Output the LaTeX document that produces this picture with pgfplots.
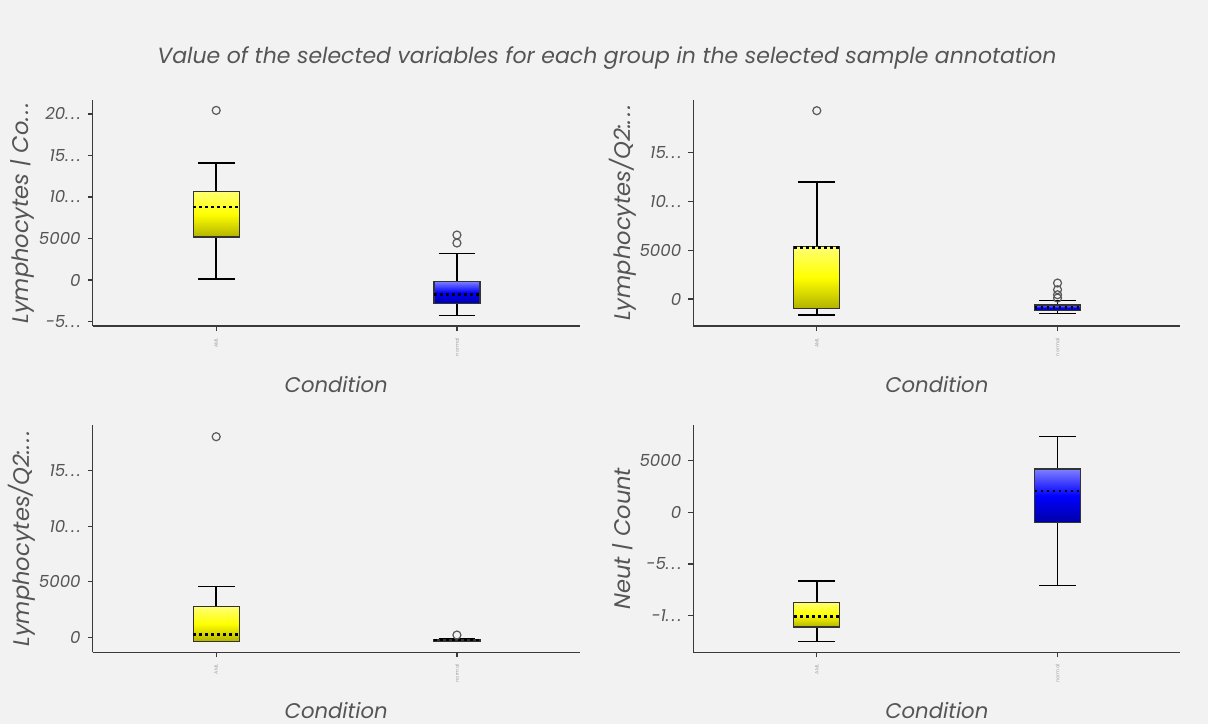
\documentclass[border=0pt]{standalone}
\usepackage{pgfplots}
\pgfplotsset{compat=1.18}
\usepgfplotslibrary{statistics}
\usepackage{fontspec}
\setmainfont{Poppins}
\newcommand{\dd}{.\kern1.2pt.\kern1.2pt.}
\definecolor{bg}{HTML}{F2F2F2}
\definecolor{txt}{HTML}{555555}
\definecolor{axc}{HTML}{3A3A3A}
\pgfplotsset{
 panel/.style={
  scale only axis, width=243.5pt,
  axis x line=bottom, axis y line=left,
  axis line style={-, draw=axc, line width=0.75pt},
  xmin=-0.513, xmax=1.51,
  xtick={0,1}, xticklabels={AML,normal},
  x tick label style={rotate=90, anchor=east, font=\fontsize{2.5}{3}\selectfont, text=gray!70},
  scaled y ticks=false,
  tick style={draw=axc, line width=0.6pt},
  tick align=outside, major tick length=2.5pt,
  y tick label style={font=\fontsize{8.3}{9}\selectfont\itshape, text=txt},
  every axis y label/.style={at={(axis description cs:-0.145,0.5)}, anchor=center, rotate=90, font=\fontsize{11.3}{13}\selectfont\itshape, text=txt},
  xlabel={Condition},
  clip=false,
 },
 bx/.style={boxplot/draw direction=y, boxplot/box extend=0.191, draw=black,
  boxplot/every box/.style={draw=black!80, line width=0.65pt, fill=none},
  boxplot/every whisker/.style={draw=black, line width=0.7pt},
  boxplot/every median/.style={draw=black, line width=1.4pt, dash pattern=on 1.4pt off 1.6pt},
  mark=o, mark size=2pt, mark options={draw=black!65, line width=0.6pt, solid}},
 shaml/.style={draw=none, top color=yellow!55!white, bottom color=yellow!70!black, middle color=yellow},
 shnrm/.style={draw=none, top color=blue!50!white, bottom color=blue!65!black, middle color=blue},
 xlab/.style={every axis x label/.style={at={(axis description cs:0.5,#1)}, anchor=center, font=\fontsize{10.6}{12}\selectfont\itshape, text=txt}},
}
\begin{document}
\begin{tikzpicture}
\useasboundingbox (0,0) rectangle (604pt,362pt);
\fill[bg] (0,0) rectangle (604pt,362pt);
\node[font=\fontsize{11}{13}\selectfont\itshape, text=txt] at (303.5pt,333pt) {Value of the selected variables for each group in the selected sample annotation};

% Panel 1
\begin{axis}[panel, xlab=-0.257, at={(46.35pt,199pt)}, anchor=south west, height=113pt,
  ymin=-5542, ymax=21687,
  ytick={-5000,0,5000,10000,15000,20000},
  yticklabels={-5\dd,0,5000,10\dd,15\dd,20\dd},
  ylabel={Lymphocytes | Co\dd}]
\addplot[shaml] coordinates {(-0.0955,5181) (0.0955,5181) (0.0955,10687) (-0.0955,10687)} -- cycle;
\addplot[shnrm] coordinates {(0.9045,-2855) (1.0955,-2855) (1.0955,-157) (0.9045,-157)} -- cycle;
\addplot[bx, boxplot prepared={draw position=0, lower whisker=120, lower quartile=5181, median=8795, upper quartile=10687, upper whisker=14096}]
  table[row sep=\\, y index=0]{y\\ 20434\\};
\addplot[bx, boxplot prepared={draw position=1, lower whisker=-4253, lower quartile=-2855, median=-1723, upper quartile=-157, upper whisker=3217}]
  table[row sep=\\, y index=0]{y\\ 5422\\ 4458\\};
\end{axis}

% Panel 2
\begin{axis}[panel, xlab=-0.257, at={(346.65pt,199pt)}, anchor=south west, height=113pt,
  ymin=-2755, ymax=20337,
  ytick={0,5000,10000,15000},
  yticklabels={0,5000,10\dd,15\dd},
  ylabel={Lymphocytes/Q2:\dd}]
\addplot[shaml] coordinates {(-0.0955,-959) (0.0955,-959) (0.0955,5370) (-0.0955,5370)} -- cycle;
\addplot[shnrm] coordinates {(0.9045,-1163) (1.0955,-1163) (1.0955,-612) (0.9045,-612)} -- cycle;
\addplot[bx, boxplot prepared={draw position=0, lower whisker=-1633, lower quartile=-959, median=5250, upper quartile=5370, upper whisker=11970}]
  table[row sep=\\, y index=0]{y\\ 19245\\};
\addplot[bx, boxplot prepared={draw position=1, lower whisker=-1500, lower quartile=-1163, median=-888, upper quartile=-612, upper whisker=-143}]
  table[row sep=\\, y index=0]{y\\ 1633\\ 949\\ 439\\ 100\\};
\end{axis}

% Panel 3
\begin{axis}[panel, xlab=-0.255, at={(46.35pt,35.85pt)}, anchor=south west, height=113.65pt,
  ymin=-1351, ymax=19126,
  ytick={0,5000,10000,15000},
  yticklabels={0,5000,10\dd,15\dd},
  ylabel={Lymphocytes/Q2:\dd}]
\addplot[shaml] coordinates {(-0.0955,-360) (0.0955,-360) (0.0955,2757) (-0.0955,2757)} -- cycle;
\addplot[shnrm] coordinates {(0.9045,-330) (1.0955,-330) (1.0955,-170) (0.9045,-170)} -- cycle;
\addplot[bx, boxplot prepared={draw position=0, lower whisker=-360, lower quartile=-360, median=270, upper quartile=2757, upper whisker=4595}]
  table[row sep=\\, y index=0]{y\\ 18072\\};
\addplot[bx, boxplot prepared={draw position=1, lower whisker=-380, lower quartile=-330, median=-250, upper quartile=-170, upper whisker=-110}]
  table[row sep=\\, y index=0]{y\\ 207\\};
\end{axis}

% Panel 4
\begin{axis}[panel, xlab=-0.255, at={(346.65pt,35.85pt)}, anchor=south west, height=113.65pt,
  ymin=-13540, ymax=8443,
  ytick={-10000,-5000,0,5000},
  yticklabels={-1\dd,-5\dd,0,5000},
  ylabel={Neut | Count}]
\addplot[shaml] coordinates {(-0.0955,-11093) (0.0955,-11093) (0.0955,-8704) (-0.0955,-8704)} -- cycle;
\addplot[shnrm] coordinates {(0.9045,-1006) (1.0955,-1006) (1.0955,4188) (0.9045,4188)} -- cycle;
\addplot[bx, boxplot prepared={draw position=0, lower whisker=-12515, lower quartile=-11093, median=-10097, upper quartile=-8704, upper whisker=-6644}]
  coordinates {};
\addplot[bx, boxplot prepared={draw position=1, lower whisker=-7099, lower quartile=-1006, median=2060, upper quartile=4188, upper whisker=7311}]
  coordinates {};
\end{axis}
\end{tikzpicture}
\end{document}
